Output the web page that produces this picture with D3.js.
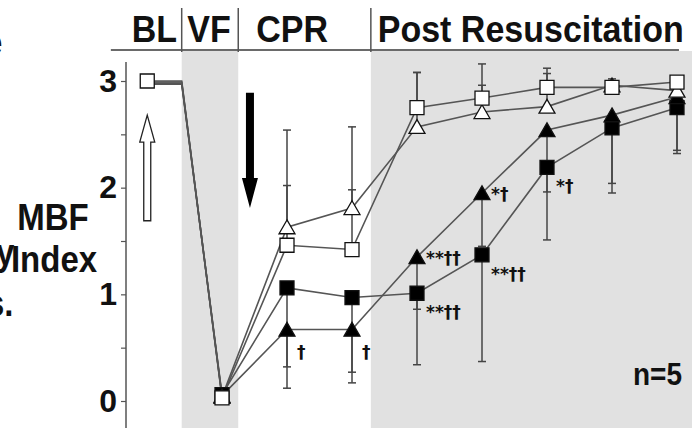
<!DOCTYPE html>
<html>
<head>
<meta charset="utf-8">
<script src="https://cdn.jsdelivr.net/npm/d3@7"></script>
<style>
  body { margin: 0; background: #fff; }
  svg { display: block; font-family: "Liberation Sans", Arial, sans-serif; font-weight: bold; }
</style>
</head>
<body>
<div id="chart"></div>
<script>
// time points (VF = 0, one unit per sample after VF)
const timePoints = [-1.15, -0.62, 0, 1, 2, 3, 4, 5, 6, 7];

// phases: bounds in the same time units
const phaseNames = ["BL", "VF", "CPR", "Post Resuscitation"];
const phaseBounds = [-1.71, -0.62, 0.25, 2.29, 7.03];
const phaseLabelAt = [-1.04, -0.2, 1.08, 4.75];
const shadedPhases = ["VF", "Post Resuscitation"];

// MBF index, mean values
const openSquare     = [3.00, 3.00, 0.03, 1.46, 1.42, 2.75, 2.84, 2.94, 2.94, 2.99];
const openTriangle   = [2.99, 2.99, 0.04, 1.63, 1.81, 2.57, 2.71, 2.76, 2.96, 2.91];
const filledSquare   = [2.98, 2.98, 0.06, 1.06, 0.97, 1.01, 1.37, 2.19, 2.56, 2.75];
const filledTriangle = [2.97, 2.97, 0.05, 0.67, 0.67, 1.35, 1.95, 2.54, 2.68, 2.85];

// standard deviations (open groups drawn up, filled groups drawn down)
const openSquareSD     = [0, 0, 0, 0.56, 0.56, 0.33, 0.32, 0.18, 0.05, 0];
const openTriangleSD   = [0, 0, 0, 0.91, 0.76, 0.51, 0.25, 0.31, 0.06, 0];
const filledSquareSD   = [0, 0, 0, 0.74, 0.70, 0.15, 1.00, 0.68, 0.52, 0.43];
const filledTriangleSD = [0, 0, 0, 0.55, 0.50, 1.01, 0.50, 0.58, 0.73, 0.50];

const yTicks = [0, 0.5, 1, 1.5, 2, 2.5, 3];

// significance marks: [series, point index, text]
const marks = [
  ["filledTriangle", 3, "†"],
  ["filledTriangle", 4, "†"],
  ["filledTriangle", 5, "**††"],
  ["filledSquare", 5, "**††"],
  ["filledSquare", 6, "**††"],
  ["filledTriangle", 6, "*†"],
  ["filledSquare", 7, "*†"]
];

const width = 692, height = 428;

const x = d3.scaleLinear().domain([0, 7]).range([222, 677]);
const y = d3.scaleLinear().domain([0, 3]).range([401, 81]);

const svg = d3.select("#chart").append("svg")
  .attr("width", width)
  .attr("height", height);

// big bold text, a little taller than wide like the scan
const bigText = (tx, ty, str, size, anchor) =>
  svg.append("text")
    .attr("transform", `translate(${tx},${ty}) scale(1,1.1)`)
    .attr("text-anchor", anchor || "start")
    .attr("font-size", size)
    .attr("fill", "#111")
    .text(str);

// grey phase bands
phaseNames.forEach((p, i) => {
  if (!shadedPhases.includes(p)) return;
  const x0 = x(phaseBounds[i]);
  const x1 = i === phaseNames.length - 1 ? width : x(phaseBounds[i + 1]);
  svg.append("rect")
    .attr("x", x0).attr("y", 51)
    .attr("width", x1 - x0).attr("height", height - 51)
    .attr("fill", "#e1e1e1");
});

// header: line, dividers, phase names
svg.append("line")
  .attr("x1", x(phaseBounds[0])).attr("x2", x(phaseBounds[4]))
  .attr("y1", 50).attr("y2", 50)
  .attr("stroke", "#6a6a6a").attr("stroke-width", 2);

svg.selectAll(".divider")
  .data(phaseBounds.slice(1, 4))
  .enter().append("line")
  .attr("class", "divider")
  .attr("x1", d => x(d)).attr("x2", d => x(d))
  .attr("y1", 8).attr("y2", 52)
  .attr("stroke", "#555").attr("stroke-width", 1.5);

phaseNames.forEach((p, i) => bigText(x(phaseLabelAt[i]), 42, p, 34, "middle"));

// y axis
const yAxis = svg.append("g")
  .attr("transform", "translate(126,0)")
  .call(d3.axisLeft(y)
    .tickValues(yTicks)
    .tickSize(5)
    .tickPadding(4)
    .tickFormat(d => Number.isInteger(d) ? d : ""));
yAxis.select(".domain").remove();
yAxis.selectAll(".tick line").attr("stroke", "#555").attr("stroke-width", 1.2);
yAxis.selectAll(".tick text")
  .attr("font-size", 32)
  .attr("font-family", "Liberation Sans, Arial, sans-serif")
  .attr("font-weight", "bold")
  .attr("fill", "#111");
svg.append("line")
  .attr("x1", 126).attr("x2", 126)
  .attr("y1", 62).attr("y2", height)
  .attr("stroke", "#555").attr("stroke-width", 1.5);

// y label (plus clipped fragments of the neighbouring page text)
bigText(53, 230, "MBF", 33, "middle");
bigText(54, 272, "Index", 33, "middle");
bigText(-4, 265, "y", 33);
bigText(-16, 55, "e", 33);
bigText(-14, 316, "s.", 33);

// arrows: open one at baseline, filled one at start of CPR
const arrow = (cx, yFrom, yTo, shaft, head, headLen) => {
  const dir = yTo > yFrom ? 1 : -1;
  const yh = yTo - dir * headLen;
  return `M${cx - shaft / 2},${yFrom} L${cx - shaft / 2},${yh} L${cx - head / 2},${yh}
          L${cx},${yTo} L${cx + head / 2},${yh} L${cx + shaft / 2},${yh} L${cx + shaft / 2},${yFrom} Z`;
};
svg.append("path")
  .attr("d", arrow(x(-1.15), y(1.69), y(2.68), 7, 15, 27))
  .attr("fill", "#fff").attr("stroke", "#222").attr("stroke-width", 1.3);
svg.append("path")
  .attr("d", arrow(x(0.43), y(2.89), y(1.81), 8, 16, 30))
  .attr("fill", "#000");

const series = [
  { key: "openTriangle", values: openTriangle, sd: openTriangleSD, dir: 1, shape: "triangle", fill: "#fff" },
  { key: "openSquare", values: openSquare, sd: openSquareSD, dir: 1, shape: "square", fill: "#fff" },
  { key: "filledSquare", values: filledSquare, sd: filledSquareSD, dir: -1, shape: "square", fill: "#000" },
  { key: "filledTriangle", values: filledTriangle, sd: filledTriangleSD, dir: -1, shape: "triangle", fill: "#000" }
];

// error bars
series.forEach(s => {
  const g = svg.append("g");
  s.values.forEach((v, i) => {
    if (!s.sd[i]) return;
    const end = v + s.dir * s.sd[i];
    g.append("line")
      .attr("x1", x(timePoints[i])).attr("x2", x(timePoints[i]))
      .attr("y1", y(v)).attr("y2", y(end))
      .attr("stroke", "#444").attr("stroke-width", 1.5);
    g.append("line")
      .attr("x1", x(timePoints[i]) - 4).attr("x2", x(timePoints[i]) + 4)
      .attr("y1", y(end)).attr("y2", y(end))
      .attr("stroke", "#444").attr("stroke-width", 1.5);
  });
});

// connecting lines
const line = d3.line().x((d, i) => x(timePoints[i])).y(d => y(d));
series.forEach(s => {
  svg.append("path")
    .datum(s.values)
    .attr("d", line)
    .attr("fill", "none")
    .attr("stroke", "#555")
    .attr("stroke-width", 1.6);
});

// markers (filled first, open squares on top)
const sym = {
  square: d3.symbol().type(d3.symbolSquare).size(196),
  triangle: d3.symbol().type(d3.symbolTriangle).size(110)
};
[series[2], series[3], series[0], series[1]].forEach(s => {
  svg.append("g").selectAll("path")
    .data(s.values.map((v, i) => ({ v, i })).filter(d => d.i !== 1 && (d.i !== 0 || s.key === "openSquare")))
    .enter().append("path")
    .attr("d", sym[s.shape])
    .attr("transform", d => `translate(${x(timePoints[d.i])},${y(d.v) + (s.shape === "triangle" ? 2 : 0)})`)
    .attr("fill", s.fill)
    .attr("stroke", "#111")
    .attr("stroke-width", 1.3);
});

// significance marks
const byKey = { openSquare, openTriangle, filledSquare, filledTriangle };
svg.selectAll(".mark")
  .data(marks)
  .enter().append("text")
  .attr("class", "mark")
  .attr("x", d => x(timePoints[d[1]]) + (d[2] === "†" ? 10 : 9))
  .attr("y", d => y(byKey[d[0]][d[1]]) + (d[0] === "filledSquare" ? 25 : (d[2] === "†" ? 28 : 7)))
  .attr("font-family", "DejaVu Sans, sans-serif")
  .attr("font-size", 17)
  .attr("fill", "#111")
  .text(d => d[2]);

bigText(682, 385, "n=5", 28, "end");
</script>
</body>
</html>
